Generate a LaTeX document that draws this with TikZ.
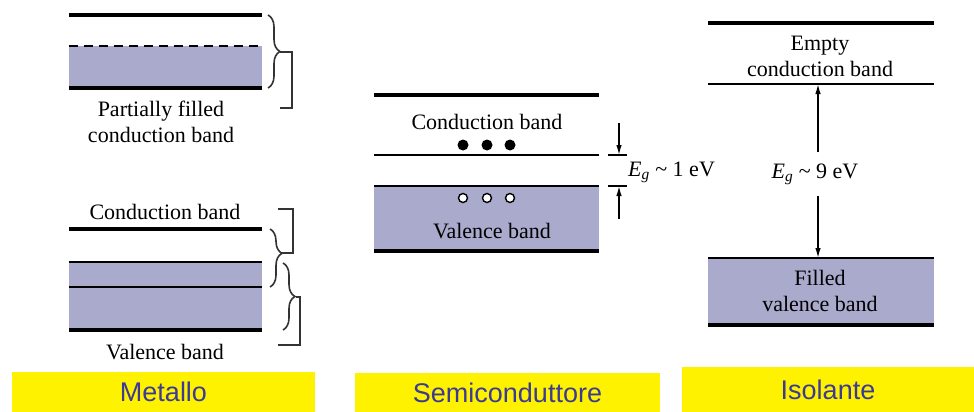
\documentclass[tikz,border=0pt]{standalone}
\usepackage{fontspec}
\setmainfont{Liberation Serif}
\newfontfamily\tagfont{Liberation Sans}
\usetikzlibrary{arrows.meta, positioning}
\usetikzlibrary{decorations.pathreplacing}
\definecolor{bandfill}{HTML}{A9AACC}
\definecolor{tagblue}{HTML}{3B3B96}
\definecolor{bracegray}{HTML}{333333}

\begin{document}
\begin{tikzpicture}[x=1pt, y=-1pt, >={Latex[length=10pt, width=5.5pt]},
    every node/.style={font=\fontsize{22}{26}\selectfont, inner sep=0pt},
    edge/.style={line width=3.4pt},
    mid/.style={line width=2pt},
    level/.style={line width=1.4pt},
    curly/.style={draw=bracegray, line width=1.6pt, decorate, decoration={brace, amplitude=12pt}},
    bracket/.style={draw=bracegray, line width=1.5pt},
    tag/.style={fill=yellow, text=tagblue, font=\tagfont\fontsize{27}{30}\selectfont}]
    \useasboundingbox (0,0) rectangle (974,412);

    % Metallo, upper
    \fill[bandfill] (69,46) rectangle (262,88);
    \draw[edge] (69,15) -- (262,15);
    \draw[mid, dash pattern=on 9pt off 6pt] (69,46) -- (262,46);
    \draw[edge] (69,88) -- (262,88);
    \node[align=center] (pfcb) at (161,122) {Partially filled\\conduction band};
    \draw[curly] (268,15) -- (268,88);
    \draw[bracket] (280,52) -| (292,108) -- (280,108);

    % Metallo, lower
    \node (mcb) at (165,212) {Conduction band};
    \fill[bandfill] (69,262) rectangle (262,330);
    \draw[edge] (69,229) -- (262,229);
    \draw[mid] (69,262) -- (262,262);
    \draw[mid] (69,287) -- (262,287);
    \draw[edge] (69,330) -- (262,330);
    \node (mvb) at (165,352) {Valence band};
    \draw[curly, decoration={aspect=0.42}] (270,229) -- (270,287);
    \draw[bracket] (278,209) -| (293,253) -- (282,253);
    \draw[curly] (283,263) -- (283,330);
    \draw[bracket] (296,297) -| (300,345) -- (278,345);

    % Semiconduttore
    \fill[bandfill] (374,186) rectangle (599,251);
    \draw[edge] (374,95) -- (599,95);
    \node (scb) at (487,122) {Conduction band};
    \foreach \x in {463,487,510} {
        \fill (\x,145) circle (5.5pt);
        \draw[level, fill=white] (\x,198) circle (4.5pt);
    }
    \draw[level] (374,155) -- (599,155);
    \draw[mid] (374,186) -- (599,186);
    \draw[edge] (374,251) -- (599,251);
    \node (svb) at (492,231) {Valence band};
    \draw[level] (608,155) -- (627,155);
    \draw[level] (608,186) -- (627,186);
    \coordinate (gtop) at (619,123);
    \coordinate (gcb) at (619,155);
    \coordinate (gvb) at (619,186);
    \coordinate (gbot) at (619,219);
    \draw[level, ->] (gtop) -- (gcb);
    \draw[level, ->] (gbot) -- (gvb);
    \node[anchor=west] (eg1) at (628,172) {{\itshape E}\textsubscript{\itshape g} \textasciitilde{} 1 eV};

    % Isolante
    \draw[edge] (708,23) -- (934,23);
    \node[align=center] (icb) at (820,56.5) {Empty\\conduction band};
    \draw[level] (708,84) -- (934,84);
    \fill[bandfill] (708,258) rectangle (934,325);
    \draw[mid] (708,258) -- (934,258);
    \draw[edge] (708,325) -- (934,325);
    \node[align=center] (ivb) at (820,291) {Filled\\valence band};
    \node[inner ysep=11pt] (eg9) at (815,174) {{\itshape E}\textsubscript{\itshape g} \textasciitilde{} 9 eV};
    \coordinate (itop) at (818,84);
    \coordinate (ibot) at (818,258);
    \draw[level, ->] (eg9.north -| itop) -- (itop);
    \draw[level, ->] (eg9.south -| ibot) -- (ibot);

    % labels
    \node[tag, minimum width=303pt, minimum height=40pt] (metallo) at (163.5,392) {Metallo};
    \node[tag, minimum width=305pt, minimum height=39pt] (semi) at (507.5,392.5) {Semiconduttore};
    \node[tag, minimum width=292pt, minimum height=45pt] (isol) at (828,389.5) {Isolante};
\end{tikzpicture}
\end{document}
